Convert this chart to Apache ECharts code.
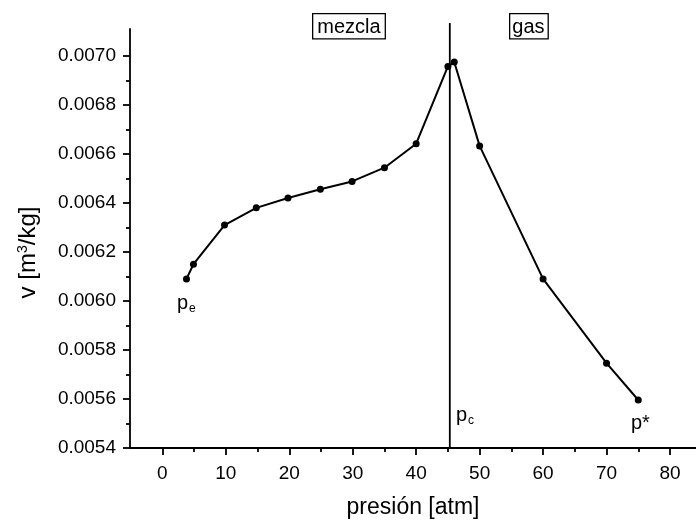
<!DOCTYPE html>
<html>
<head>
<meta charset="utf-8">
<script src="https://cdn.jsdelivr.net/npm/echarts@6/dist/echarts.min.js"></script>
<style>
  html, body { margin: 0; padding: 0; background: #fff; }
  #main { width: 696px; height: 524px; }
</style>
</head>
<body>
<div id="main"></div>
<script>
// datos: presión [atm] y volumen específico [m3/kg]
var presion = [3.8, 4.9, 9.8, 14.8, 19.8, 24.9, 29.9, 35.0, 40.0, 45.0, 46.0, 50.0, 60.0, 70.0, 75.0];
var volumen = [0.00609, 0.00615, 0.00631, 0.00638, 0.00642, 0.006456, 0.006488, 0.006544, 0.006642, 0.006957, 0.006975, 0.006633, 0.00609, 0.005746, 0.005596];

// presión crítica (línea vertical)
var pCritica = 45.3;

// marcas de los ejes
var xTicks = [0, 10, 20, 30, 40, 50, 60, 70, 80];
var xMinorTicks = [5, 15, 25, 35, 45, 55, 65, 75];
var yTicks = [0.0054, 0.0056, 0.0058, 0.0060, 0.0062, 0.0064, 0.0066, 0.0068, 0.0070];
var yMinorTicks = [0.0055, 0.0057, 0.0059, 0.0061, 0.0063, 0.0065, 0.0067, 0.0069];

var font = 'Liberation Sans';
var datos = presion.map(function (p, i) { return [p, volumen[i]]; });

var chart = echarts.init(document.getElementById('main'));

var negro = '#000';
var eje = { onZero: false, lineStyle: { color: negro, width: 1.8 } };

var option = {
    backgroundColor: '#fff',
    animation: false,
    grid: { left: 130, top: 29, right: 0, bottom: 74 },
    xAxis: [{
        type: 'value', min: -5.1, max: 84.1,
        name: 'presión [atm]', nameLocation: 'middle', nameGap: 48,
        nameTextStyle: { fontFamily: font, fontSize: 23, color: negro },
        axisLine: eje,
        axisTick: { customValues: xTicks, length: 7, lineStyle: { color: negro, width: 1.8 } },
        axisLabel: { customValues: xTicks, margin: 16, fontFamily: font, fontSize: 19, color: negro },
        splitLine: { show: false }
    }, {
        type: 'value', min: -5.1, max: 84.1, position: 'bottom',
        axisLine: { show: false, onZero: false },
        axisTick: { customValues: xMinorTicks, length: 4, lineStyle: { color: negro, width: 1.8 } },
        axisLabel: { show: false },
        splitLine: { show: false }
    }],
    yAxis: [{
        type: 'value', min: 0.0054, max: 0.00711,
        name: 'v [m{sup|3}/kg]', nameLocation: 'middle', nameGap: 90,
        nameTextStyle: {
            fontFamily: font, fontSize: 24, color: negro, padding: [0, 28, 0, 0],
            rich: { sup: { fontFamily: font, fontSize: 14, color: negro, verticalAlign: 'top', padding: [0, 0, 10, 0] } }
        },
        axisLine: eje,
        axisTick: { customValues: yTicks, length: 7, lineStyle: { color: negro, width: 1.8 } },
        axisLabel: {
            customValues: yTicks, margin: 14, fontFamily: font, fontSize: 19, color: negro,
            formatter: function (v) { return v.toFixed(4); }
        },
        splitLine: { show: false }
    }, {
        type: 'value', min: 0.0054, max: 0.00711, position: 'left',
        axisLine: { show: false, onZero: false },
        axisTick: { customValues: yMinorTicks, length: 4, lineStyle: { color: negro, width: 1.8 } },
        axisLabel: { show: false },
        splitLine: { show: false }
    }],
    series: [{
        type: 'line',
        data: datos,
        symbol: 'circle',
        symbolSize: 7,
        itemStyle: { color: negro },
        lineStyle: { color: negro, width: 2 }
    }, {
        // presión crítica
        type: 'line',
        data: [[pCritica, 0.0054], [pCritica, 0.007134]],
        clip: false,
        symbol: 'none',
        lineStyle: { color: negro, width: 1.8 }
    }],
    graphic: [
        // recuadros de las regiones
        {
            type: 'text', left: 312, top: 13,
            style: {
                text: 'mezcla', fontFamily: font, fontSize: 20, fill: negro,
                backgroundColor: '#fff', borderColor: negro, borderWidth: 1.3, padding: [3, 4, 1, 4]
            }
        },
        {
            type: 'text', left: 509, top: 13,
            style: {
                text: 'gas', fontFamily: font, fontSize: 20, fill: negro,
                backgroundColor: '#fff', borderColor: negro, borderWidth: 1.3, padding: [3, 3, 1, 2]
            }
        },
        // etiquetas de puntos
        {
            type: 'text', left: 177, top: 293,
            style: {
                text: '{p|p}{s|e}',
                rich: { p: { fontFamily: font, fontSize: 20, fill: negro }, s: { fontFamily: font, fontSize: 12, fill: negro, padding: [11, 0, 0, 1] } }
            }
        },
        {
            type: 'text', left: 456, top: 405,
            style: {
                text: '{p|p}{s|c}',
                rich: { p: { fontFamily: font, fontSize: 20, fill: negro }, s: { fontFamily: font, fontSize: 12, fill: negro, padding: [11, 0, 0, 1] } }
            }
        },
        {
            type: 'text', left: 631, top: 413,
            style: { text: 'p*', fontFamily: font, fontSize: 20, fill: negro }
        }
    ]
};

chart.setOption(option);
</script>
</body>
</html>
